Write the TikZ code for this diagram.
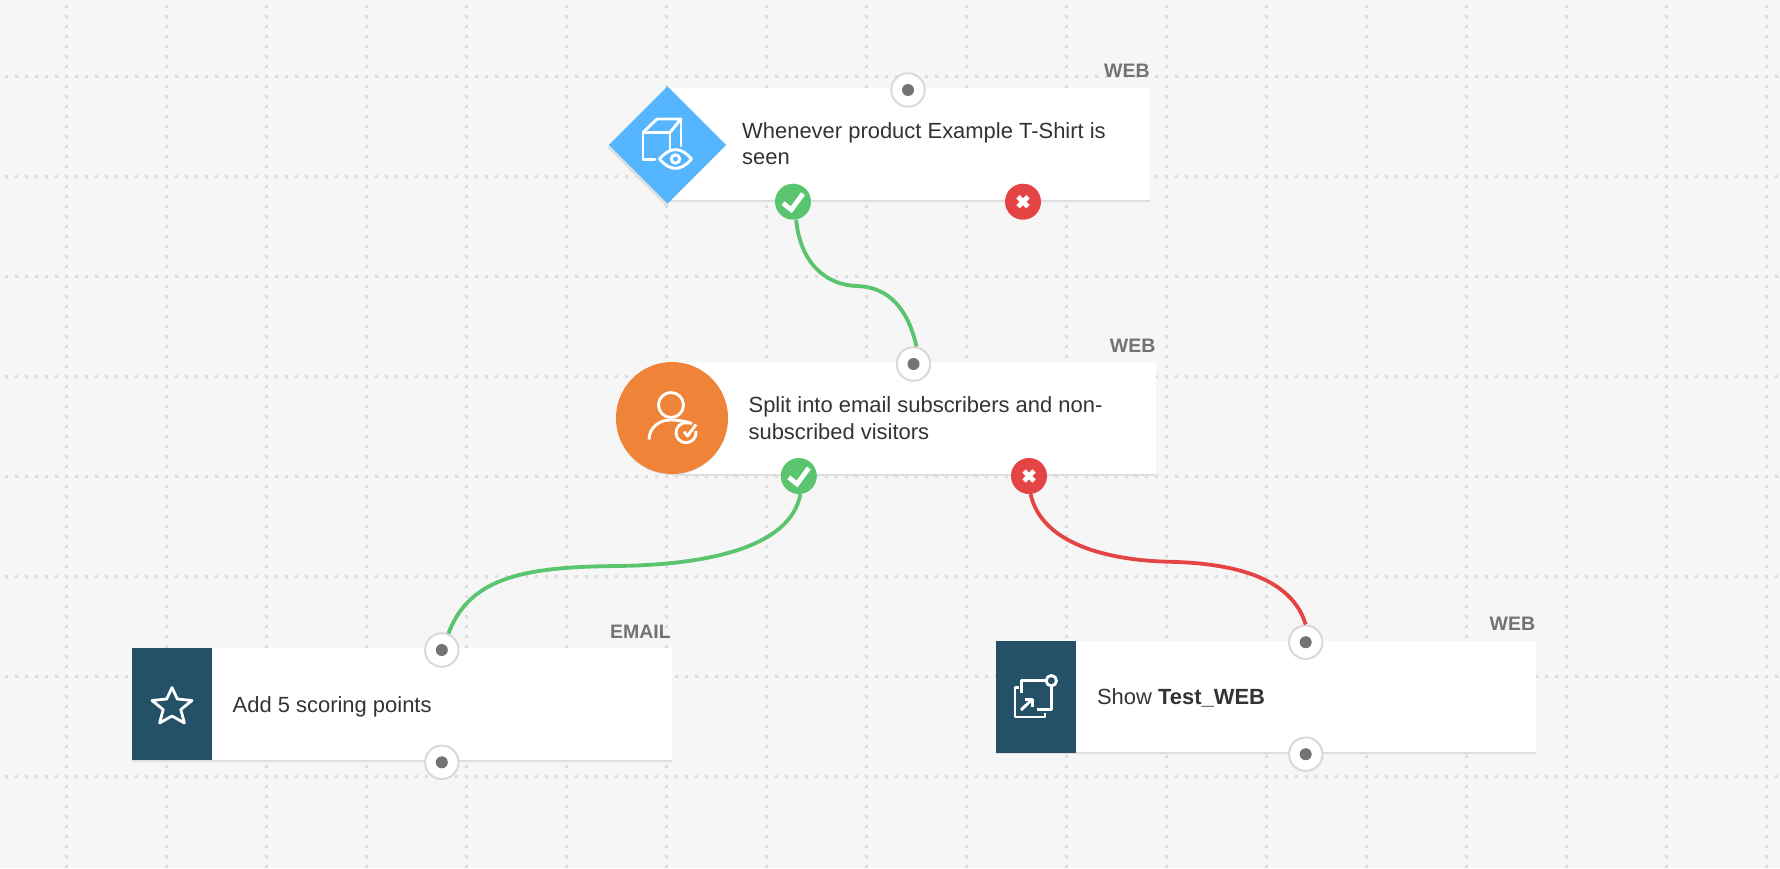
\documentclass[tikz,border=0pt]{standalone}
\usepackage{fontspec}
\usetikzlibrary{shapes.geometric}
\setmainfont{Liberation Sans}
\definecolor{bgc}{HTML}{F6F6F6}
\definecolor{gridc}{HTML}{DCDCDC}
\definecolor{okc}{HTML}{5AC46F}
\definecolor{noc}{HTML}{E54444}
\definecolor{bluec}{HTML}{55B6FF}
\definecolor{orangec}{HTML}{EF8438}
\definecolor{tealc}{HTML}{245068}
\definecolor{txtc}{HTML}{333333}
\definecolor{tagc}{HTML}{737373}
\definecolor{ringc}{HTML}{D9D9D9}
\definecolor{edgec}{HTML}{DEDEDE}
\tikzset{
  griddots/.style={gridc,line width=2.2pt,dash pattern=on 2.2pt off 7.8pt},
  cardbox/.style={rectangle,fill=white,inner sep=0pt,anchor=north west},
  cardline/.style={edgec,line width=2.2pt},
  iconbox/.style={rectangle,fill=tealc,inner sep=0pt,anchor=north west,minimum width=80pt},
  bodytext/.style={text=txtc,inner sep=0pt,anchor=west,align=left,font=\fontsize{21.95}{26.2}\selectfont},
  tagtext/.style={text=tagc,inner sep=0pt,anchor=base east,font=\fontsize{19.5}{22}\selectfont\bfseries},
  porthole/.style={circle,fill=white,draw=ringc,line width=2pt,minimum size=33.5pt,inner sep=0pt},
  portdot/.style={fill=tagc},
  okport/.style={circle,fill=okc,minimum size=36pt,inner sep=0pt},
  noport/.style={circle,fill=noc,minimum size=36pt,inner sep=0pt},
  okline/.style={okc,line width=3.8pt},
  noline/.style={noc,line width=3.8pt},
  tickmark/.style={white,line width=4.8pt,line join=miter},
  crossmark/.style={white,line width=4.8pt},
  iconline/.style={white,line width=2.9pt,line join=round},
}
\begin{document}
\begin{tikzpicture}[x=1pt,y=-1pt]
\useasboundingbox (0,0) rectangle (1780,868);
\fill[bgc] (0,0) rectangle (1780,868);
% grid
\foreach \gx in {66.5,166.5,...,1770} {\draw[griddots] (\gx,5.4) -- (\gx,868);}
\foreach \gy in {76.5,176.5,...,870} {\draw[griddots] (5.4,\gy) -- (1780,\gy);}

% ---- card 1
\node[cardbox,minimum width=483pt,minimum height=113pt] (card1) at (667,87.7) {};
\draw[cardline] (667,200.8) -- (1150,200.8);
\fill[edgec] (609,146) -- (607.5,147.5) -- (666,206.5) -- (668,205) -- cycle;
\node[diamond,aspect=1,fill=bluec,inner sep=0pt,minimum size=117.5pt] (trigger) at (667.5,145) {};
\draw[iconline,line cap=round] (655,159.3) -- (643,159.3) -- (643,132.3) -- (670,132.3) -- (670,149);
\draw[iconline] (643,132.3) -- (657,119) -- (681,119) -- (670,132.3);
\draw[iconline,line cap=round] (681,119) -- (681,146);
\draw[iconline] (659.5,159) .. controls (670,146.5) and (681,146.5) .. (691.5,159) .. controls (681,171.5) and (670,171.5) .. (659.5,159) -- cycle;
\draw[iconline] (675.5,159) circle (4.2pt);
\node[bodytext] (text1) at (742,144) {Whenever product Example T-Shirt is\\seen};
\node[tagtext] (tag1) at (1149.8,77) {WEB};

% ---- card 2
\node[cardbox,minimum width=484pt,minimum height=112pt] (card2) at (672,362) {};
\draw[cardline] (672,474.6) -- (1156,474.6);
\fill[edgec] (672,419) circle (56pt);
\node[circle,fill=orangec,inner sep=0pt,minimum size=112pt] (split) at (672,418) {};
\draw[iconline] (671,405) circle (12.5pt);
\draw[iconline] (649,439.5) .. controls (649,428) and (659,420) .. (670,420) .. controls (678,420) and (685,421) .. (692,423.5);
\draw[iconline] (689.4,423.3) arc (70:370:10pt);
\draw[iconline] (684,431.7) -- (687.5,436) -- (696,424.5);
\node[bodytext] (text2) at (748.4,418.2) {Split into email subscribers and non-\\subscribed visitors};
\node[tagtext] (tag2) at (1155.6,352) {WEB};

% ---- card 3
\node[cardbox,minimum width=540pt,minimum height=112pt] (card3) at (132,648.2) {};
\draw[cardline] (132,761) -- (672,761);
\node[iconbox,minimum height=112pt] (score) at (132,648.2) {};
\draw[iconline,line width=2.8pt,miter limit=10] (172,687.5)
  -- (177.3,699) -- (192,700.5) -- (180.8,709.5) -- (184.4,723) -- (172,716) -- (159.6,723) -- (163.2,709.5) -- (152,700.5) -- (166.7,699) -- cycle;
\node[bodytext] (text3) at (232.5,706.8) {Add 5 scoring points};
\node[tagtext] (tag3) at (671,638) {EMAIL};

% ---- card 4
\node[cardbox,minimum width=540pt,minimum height=112pt] (card4) at (996,640.3) {};
\draw[cardline] (996,753.1) -- (1536,753.1);
\node[iconbox,minimum height=112pt] (show) at (996,640.3) {};
\draw[iconline] (1021.7,692.7) -- (1021.7,680.7) -- (1045.5,680.7);
\draw[iconline] (1051.5,686.7) -- (1051.5,709.3) -- (1037.3,709.3);
\draw[iconline] (1051.3,680.7) circle (5.2pt);
\draw[iconline] (1019,687.3) -- (1015,687.3) -- (1015,717) -- (1045,717) -- (1045,713.3);
\draw[iconline] (1021,710) -- (1032.3,699.3);
\draw[iconline] (1025,699.3) -- (1032.3,699.3) -- (1032.3,706.7);
\node[bodytext] (text4) at (1096.8,697.6) {Show \textbf{Test\_WEB}};
\node[tagtext] (tag4) at (1535.4,630) {WEB};

% ---- ports
\node[porthole] (in1) at (908,90) {};
\fill[portdot] (in1.center) circle (6pt);
\node[okport] (yes1) at (793,201.7) {};
\draw[tickmark] ([shift={(-10pt,-1.5pt)}]yes1.center) -- ([shift={(-1.7pt,-8pt)}]yes1.center) -- ([shift={(10pt,8pt)}]yes1.center);
\node[noport] (no1) at (1023,201.7) {};
\draw[crossmark] ([shift={(-5pt,-5pt)}]no1.center) -- ([shift={(5pt,5pt)}]no1.center);
\draw[crossmark] ([shift={(-5pt,5pt)}]no1.center) -- ([shift={(5pt,-5pt)}]no1.center);

\node[porthole] (in2) at (913.5,364) {};
\fill[portdot] (in2.center) circle (6pt);
\node[okport] (yes2) at (798.8,476) {};
\draw[tickmark] ([shift={(-10pt,-1.5pt)}]yes2.center) -- ([shift={(-1.7pt,-8pt)}]yes2.center) -- ([shift={(10pt,8pt)}]yes2.center);
\node[noport] (no2) at (1029,476) {};
\draw[crossmark] ([shift={(-5pt,-5pt)}]no2.center) -- ([shift={(5pt,5pt)}]no2.center);
\draw[crossmark] ([shift={(-5pt,5pt)}]no2.center) -- ([shift={(5pt,-5pt)}]no2.center);

\node[porthole] (in3) at (441.8,650) {};
\fill[portdot] (in3.center) circle (6pt);
\node[porthole] (out3) at (441.8,762.3) {};
\fill[portdot] (out3.center) circle (6pt);
\node[porthole] (in4) at (1305.7,642.2) {};
\fill[portdot] (in4.center) circle (6pt);
\node[porthole] (out4) at (1305.7,754.2) {};
\fill[portdot] (out4.center) circle (6pt);

% ---- connectors
\coordinate (m1) at (856.7,286);
\coordinate (m2) at (616.7,566);
\coordinate (m3) at (1166.7,561.7);
\draw[okline] (yes1.-80) .. controls (800,262) and (825,285) .. (m1) .. controls (890,287) and (908,310) .. (in2.80);
\draw[okline] (yes2.-85) .. controls (790,550) and (700,565) .. (m2) .. controls (530,567) and (470,575) .. (in3.68);
\draw[noline] (no2.-85) .. controls (1042,545) and (1110,560) .. (m3) .. controls (1240,563) and (1292,580) .. (in4.90);
\end{tikzpicture}
\end{document}
